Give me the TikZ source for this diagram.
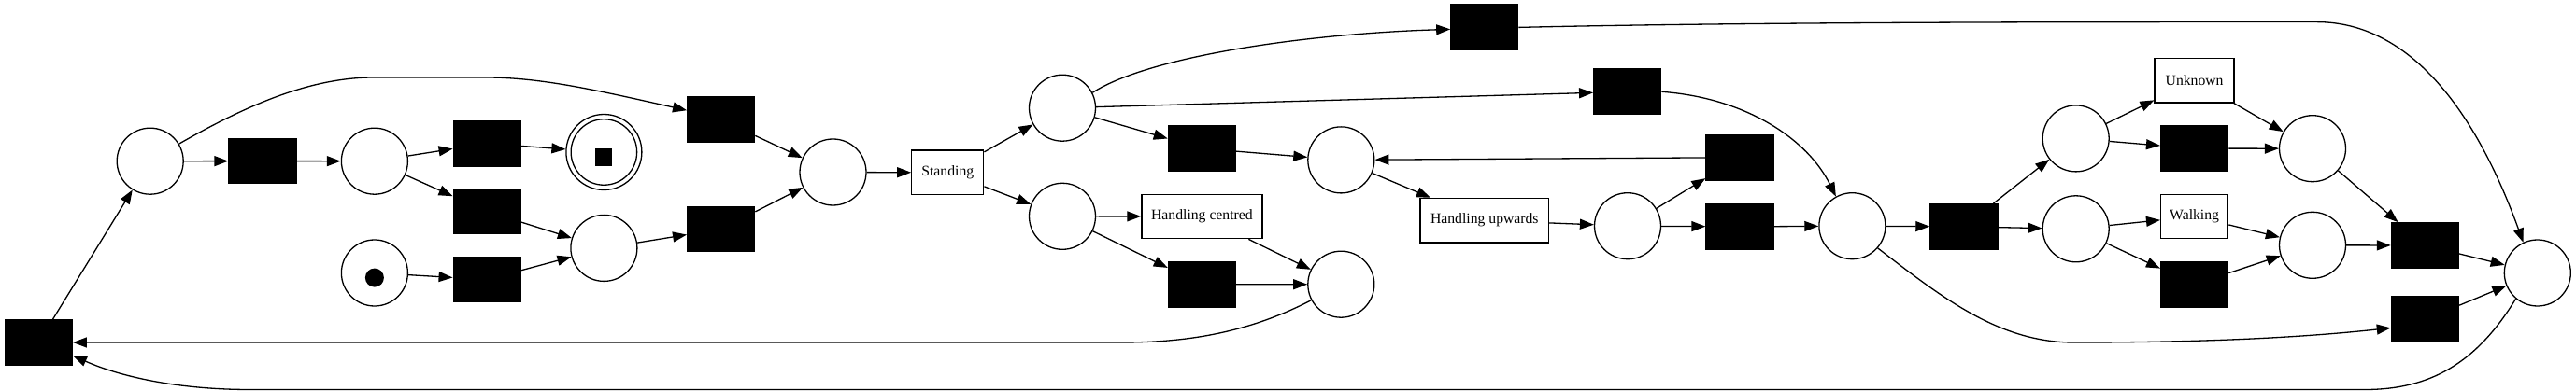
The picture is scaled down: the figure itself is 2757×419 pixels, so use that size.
\documentclass[tikz,border=0pt]{standalone}
\usepackage{fontspec}
\setmainfont{Liberation Serif}
\usetikzlibrary{arrows.meta}
\begin{document}
\begin{tikzpicture}[x=1pt,y=-1pt,line width=1.3pt,
  place/.style={circle,draw,minimum size=71pt,inner sep=0pt},
  trans/.style={rectangle,fill=black,draw=black,minimum width=72pt,minimum height=48.5pt,inner sep=0pt},
  lbox/.style={rectangle,draw,minimum height=47.5pt,inner sep=0pt,font=\fontsize{15.7}{18}\selectfont},
  arc/.style={-{Triangle[length=15pt,width=11pt]}}]
\useasboundingbox (0,0) rectangle (2757,419);
% nodes
\node[trans] (Tl) at (41.3,367) {};
\node[place] (P1) at (160.7,172.7) {};
\node[trans] (T1) at (281,172.6) {};
\node[place] (P2) at (400.9,172.7) {};
\node[trans] (T2) at (521.2,153.7) {};
\node[trans] (T3) at (521.2,226.6) {};
\node[trans] (T4) at (521.2,299.6) {};
\node[place,minimum size=81pt] (Pf) at (646.4,163) {};
\node[place,minimum size=70.5pt] (Pfin) at (646.4,163) {};
\node[rectangle,fill=black,inner sep=0pt,minimum width=18pt,minimum height=19pt] (fsq) at (646,169) {};
\node[place] (Pi) at (400.9,292.5) {};
\node[circle,fill=black,inner sep=0pt,minimum size=20pt] (tok) at (400.9,297.6) {};
\node[place] (P3) at (646.4,265.9) {};
\node[trans] (T5) at (771.7,128.2) {};
\node[trans] (T6) at (771.7,245.6) {};
\node[place] (P4) at (891.5,184.5) {};
\node[lbox,minimum width=77pt] (St) at (1014.3,184.9) {Standing};
\node[place] (P5) at (1137,115.7) {};
\node[place] (P6) at (1137,231.8) {};
\node[trans] (T7) at (1286.4,159.1) {};
\node[lbox,minimum width=129pt] (HC) at (1286.4,232) {Handling centred};
\node[trans] (T8) at (1286.4,304.8) {};
\node[trans] (T9) at (1588.8,29.4) {};
\node[trans] (T10) at (1741.7,98.3) {};
\node[place] (P7) at (1435.3,171.4) {};
\node[place] (P8) at (1435.3,304.7) {};
\node[lbox,minimum width=137.5pt] (HU) at (1588.8,236.2) {Handling upwards};
\node[place] (P9) at (1742,242.2) {};
\node[trans] (T11) at (1862,168.7) {};
\node[trans] (T12) at (1862,242.9) {};
\node[place] (P10) at (1982.4,242.2) {};
\node[trans] (T13) at (2101.9,242.9) {};
\node[place] (P11) at (2221.7,148.4) {};
\node[place] (P12) at (2221.7,245.3) {};
\node[lbox,minimum width=85pt] (Un) at (2348.6,86.2) {Unknown};
\node[trans] (T14) at (2348.6,159.1) {};
\node[lbox,minimum width=72pt] (Wa) at (2348.6,232) {Walking};
\node[trans] (T15) at (2348.6,304.8) {};
\node[place] (P13) at (2475,159.2) {};
\node[place] (P14) at (2475,262.8) {};
\node[trans] (T16) at (2595.4,263) {};
\node[trans] (T17) at (2595.4,342.4) {};
\node[place] (P15) at (2715.8,292.5) {};
% arcs
\draw[arc] (Tl) -- (P1);
\draw[arc] (P1) -- (T1);
\draw[arc] (T1) -- (P2);
\draw[arc] (P2) -- (T2);
\draw[arc] (P2) -- (T3);
\draw[arc] (T2) -- (Pf);
\draw[arc] (T3) -- (P3);
\draw[arc] (Pi) -- (T4);
\draw[arc] (T4) -- (P3);
\draw[arc] (P1.31) .. controls (260,115) and (330,83) .. (400,83) -- (520,83) .. controls (580,83) and (640,97) .. ([yshift=10pt]T5.west);
\draw[arc] (P3) -- (T6);
\draw[arc] (T5) -- (P4);
\draw[arc] (T6) -- (P4);
\draw[arc] (P4) -- (St);
\draw[arc] (St) -- (P5);
\draw[arc] (St) -- (P6);
\draw[arc] (P5.27) .. controls (1230,60) and (1400,36) .. ([yshift=-2pt]T9.west);
\draw[arc] (P5) -- (T10);
\draw[arc] (P5) -- (T7);
\draw[arc] (T7) -- (P7);
\draw[arc] (P6) -- (HC);
\draw[arc] (P6) -- (T8);
\draw[arc] (HC) -- (P8);
\draw[arc] (T8) -- (P8);
\draw[arc] (P8.208) .. controls (1330,360) and (1260,367) .. (1199,367) -- (Tl.east);
\draw[arc] (P7) -- (HU);
\draw[arc] (HU) -- (P9);
\draw[arc] (P9) -- (T11);
\draw[arc] (P9) -- (T12);
\draw[arc] (T11) -- (P7);
\draw[arc] (T12) -- (P10);
\draw[arc] (T10.east) .. controls (1870,105) and (1935,150) .. (P10.119);
\draw[arc] (P10) -- (T13);
\draw[arc] (T13) -- (P11);
\draw[arc] (T13) -- (P12);
\draw[arc] (P11) -- (Un);
\draw[arc] (P11) -- (T14);
\draw[arc] (Un) -- (P13);
\draw[arc] (T14) -- (P13);
\draw[arc] (P12) -- (Wa);
\draw[arc] (P12) -- (T15);
\draw[arc] (Wa) -- (P14);
\draw[arc] (T15) -- (P14);
\draw[arc] (P13) -- (T16);
\draw[arc] (P14) -- (T16);
\draw[arc] (T16) -- (P15);
\draw[arc] (T17) -- (P15);
\draw[arc] (P10.319) .. controls (2080,320) and (2140,367) .. (2220,367) .. controls (2380,367) and (2480,360) .. ([yshift=-9pt]T17.west);
\draw[arc] (T9.east) .. controls (1900,23) and (2300,23.6) .. (2480,23.6) .. controls (2580,24) and (2650,120) .. (P15.115);
\draw[arc] (P15.230) .. controls (2650,390) and (2600,417.5) .. (2531,417.5) -- (268,417.5) .. controls (180,417.5) and (120,400) .. ([yshift=-14pt]Tl.east);
\end{tikzpicture}
\end{document}
